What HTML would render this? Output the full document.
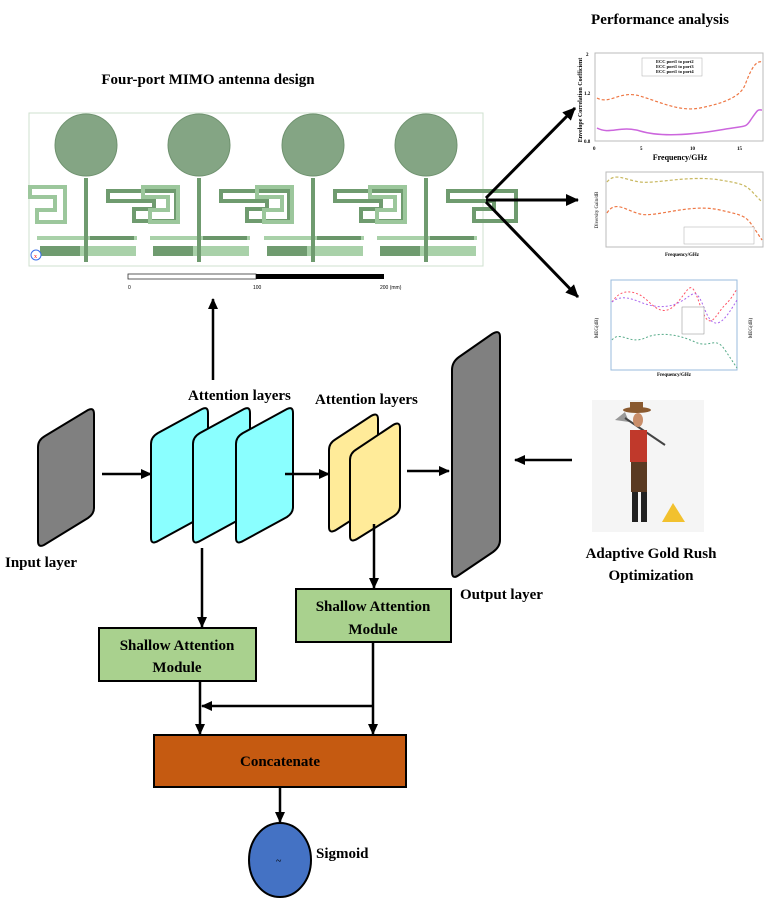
<!DOCTYPE html>
<html><head><meta charset="utf-8"><style>
body{margin:0;background:#fff;}
svg{display:block;font-family:"Liberation Serif",serif;}
.b{font-weight:bold;}
</style></head><body>
<svg width="770" height="901" viewBox="0 0 770 901" xmlns="http://www.w3.org/2000/svg">
<defs>
<marker id="ah" markerWidth="11" markerHeight="10" refX="10" refY="5" orient="auto" markerUnits="userSpaceOnUse"><path d="M0,0 L11,5 L0,10 z" fill="#000"/></marker>
<marker id="ah2" markerWidth="13" markerHeight="12" refX="12" refY="6" orient="auto" markerUnits="userSpaceOnUse"><path d="M0,0 L13,6 L0,12 z" fill="#000"/></marker>
</defs>

<text x="208" y="84" font-size="15" class="b" text-anchor="middle">Four-port MIMO antenna design</text>
<text x="660" y="24" font-size="15" class="b" text-anchor="middle">Performance analysis</text>

<rect x="29" y="113" width="454" height="153" fill="#fff" stroke="#cfe0cf" stroke-width="1"/>
<g id="ant">
 <path d="M30,187 h35 v35 h-28 v-12 h18 v-13 h-25 z" fill="none" stroke="#9cc79c" stroke-width="4"/>
 <path d="M108,191 h68 v30 h-42 v-12 h20 v-8 h-46 z" fill="none" stroke="#6f9b6f" stroke-width="4"/>
 <path d="M37,238 h100" stroke="#a9d1a9" stroke-width="4"/>
 <path d="M90,238 h44" stroke="#6a966a" stroke-width="4"/>
 <rect x="40" y="246" width="40" height="10" fill="#6f9b6f"/>
 <rect x="80" y="246" width="56" height="10" fill="#a9d1a9"/>
 <rect x="84" y="178" width="4" height="84" fill="#6f9b6f"/>
 <circle cx="86" cy="145" r="31" fill="#84a584" stroke="#6f926f"/>
</g>
<use href="#ant" x="113"/>
<use href="#ant" x="227"/>
<use href="#ant" x="340"/>
<rect x="128" y="274" width="128" height="5" fill="#fff" stroke="#333" stroke-width="0.8"/>
<rect x="256" y="274" width="128" height="5" fill="#000"/>
<text x="128" y="289" font-size="5" font-family="Liberation Sans">0</text>
<text x="253" y="289" font-size="5" font-family="Liberation Sans">100</text>
<text x="380" y="289" font-size="5" font-family="Liberation Sans">200 (mm)</text>
<circle cx="36" cy="255" r="5" fill="#fff" stroke="#3a6ee8" stroke-width="1"/>
<text x="34" y="258" font-size="6" fill="red">x</text>

<line x1="486" y1="198" x2="575" y2="108" stroke="#000" stroke-width="3" marker-end="url(#ah2)"/>
<line x1="486" y1="200" x2="578" y2="200" stroke="#000" stroke-width="3" marker-end="url(#ah2)"/>
<line x1="486" y1="202" x2="578" y2="297" stroke="#000" stroke-width="3" marker-end="url(#ah2)"/>

<rect x="595" y="53" width="168" height="88" fill="#fff" stroke="#bbb"/>
<text x="582" y="100" font-size="6" class="b" transform="rotate(-90 582 100)" text-anchor="middle">Envelope Correlation Coefficient</text>
<text x="680" y="160" font-size="8" class="b" text-anchor="middle">Frequency/GHz</text>
<g font-size="5" class="b"><text x="586" y="56">2</text><text x="584" y="95">1.2</text><text x="584" y="143">0.8</text><text x="593" y="150">0</text><text x="640" y="150">5</text><text x="690" y="150">10</text><text x="737" y="150">15</text></g>
<path d="M597,98 C610,105 620,90 640,96 S680,112 700,108 S740,98 745,85 S755,60 762,62" fill="none" stroke="#ee7744" stroke-width="1.2" stroke-dasharray="3,2"/>
<path d="M597,128 C610,135 620,125 640,131 S690,135 720,130 S745,128 752,118 S758,110 762,110" fill="none" stroke="#cc66dd" stroke-width="1.5"/>
<rect x="642" y="58" width="60" height="18" fill="#fff" stroke="#aaa" stroke-width="0.5"/>
<g font-size="4.5" class="b"><text x="656" y="63">ECC port1 to port2</text><text x="656" y="68">ECC port1 to port3</text><text x="656" y="73">ECC port1 to port4</text></g>

<rect x="606" y="172" width="157" height="75" fill="#fff" stroke="#bbb"/>
<text x="598" y="210" font-size="5" transform="rotate(-90 598 210)" text-anchor="middle">Diversity Gain/dB</text>
<text x="682" y="256" font-size="5" class="b" text-anchor="middle">Frequency/GHz</text>
<path d="M607,182 C615,172 625,180 640,182 S690,175 720,180 S745,185 762,202" fill="none" stroke="#c8b860" stroke-width="1.2" stroke-dasharray="3,2"/>
<path d="M607,213 C615,200 625,210 640,214 S690,203 720,210 S745,215 762,240" fill="none" stroke="#ee7744" stroke-width="1.2" stroke-dasharray="3,2"/>
<rect x="684" y="227" width="70" height="17" fill="#fff" stroke="#aaa" stroke-width="0.5"/>

<rect x="611" y="280" width="126" height="90" fill="#fff" stroke="#9bd"/>
<text x="598" y="328" font-size="5" transform="rotate(-90 598 328)" text-anchor="middle">MEG(dB)</text>
<text x="752" y="328" font-size="5" transform="rotate(-90 752 328)" text-anchor="middle">MEG(dB)</text>
<text x="674" y="376" font-size="5" class="b" text-anchor="middle">Frequency/GHz</text>
<path d="M612,302 C620,290 630,290 640,295 S660,320 675,305 S690,275 700,305 S715,315 725,305 S735,290 737,290" fill="none" stroke="#ff5566" stroke-width="1" stroke-dasharray="2,2"/>
<path d="M612,302 C620,295 630,298 640,302 S665,310 680,302 S695,285 705,310 S725,320 737,300" fill="none" stroke="#aa66ee" stroke-width="1" stroke-dasharray="2,2"/>
<path d="M612,340 C620,330 630,345 645,338 S680,335 695,342 S715,335 725,350 S735,365 737,368" fill="none" stroke="#55aa88" stroke-width="1" stroke-dasharray="2,2"/>
<rect x="682" y="307" width="22" height="27" fill="#fff" stroke="#888" stroke-width="0.5"/>

<line x1="213" y1="380" x2="213" y2="299" stroke="#000" stroke-width="2.5" marker-end="url(#ah)"/>

<path d="M38,447 Q38,440 45,436 L88,410 Q94,407 94,414 L94,508 Q94,514 88,518 L44,545 Q38,548 38,541 Z" fill="#808080" stroke="#000" stroke-width="2"/>

<g fill="#8affff" stroke="#000" stroke-width="2">
<path d="M151,444 Q151,437 158,433 L202,409 Q208,406 208,413 L208,507 Q208,513 202,517 L158,541 Q151,545 151,538 Z"/>
<path d="M193,444 Q193,437 200,433 L244,409 Q250,406 250,413 L250,507 Q250,513 244,517 L200,541 Q193,545 193,538 Z"/>
<path d="M236,444 Q236,437 243,433 L287,409 Q293,406 293,413 L293,507 Q293,513 287,517 L243,541 Q236,545 236,538 Z"/>
</g>
<g fill="#ffeb99" stroke="#000" stroke-width="2">
<path d="M329,450 Q329,443 336,439 L371,416 Q378,412 378,419 L378,497 Q378,503 372,507 L336,530 Q329,534 329,527 Z"/>
<path d="M350,460 Q350,453 357,449 L393,425 Q400,421 400,428 L400,506 Q400,512 394,516 L357,539 Q350,543 350,536 Z"/>
</g>
<path d="M452,370 Q452,362 459,357 L492,334 Q500,329 500,337 L500,540 Q500,547 493,552 L459,575 Q452,580 452,572 Z" fill="#808080" stroke="#000" stroke-width="2"/>

<text x="188" y="400" font-size="15" class="b">Attention layers</text>
<text x="315" y="404" font-size="15" class="b">Attention layers</text>
<text x="5" y="567" font-size="15" class="b">Input layer</text>
<text x="460" y="599" font-size="15" class="b">Output layer</text>
<text x="651" y="558" font-size="15" class="b" text-anchor="middle">Adaptive Gold Rush</text>
<text x="651" y="580" font-size="15" class="b" text-anchor="middle">Optimization</text>

<line x1="102" y1="474" x2="151" y2="474" stroke="#000" stroke-width="2.5" marker-end="url(#ah)"/>
<line x1="285" y1="474" x2="329" y2="474" stroke="#000" stroke-width="2.5" marker-end="url(#ah)"/>
<line x1="407" y1="471" x2="449" y2="471" stroke="#000" stroke-width="2.5" marker-end="url(#ah)"/>
<line x1="572" y1="460" x2="515" y2="460" stroke="#000" stroke-width="2.5" marker-end="url(#ah)"/>

<rect x="592" y="400" width="112" height="132" fill="#f5f5f5"/>
<path d="M615,420 l10,-8 l4,10 z" fill="#999"/>
<line x1="625" y1="418" x2="665" y2="445" stroke="#444" stroke-width="2"/>
<ellipse cx="637" cy="410" rx="14" ry="3" fill="#8a5a30"/>
<rect x="630" y="402" width="13" height="8" fill="#8a5a30"/>
<ellipse cx="638" cy="420" rx="5" ry="7" fill="#c98e6a"/>
<rect x="630" y="430" width="17" height="32" fill="#c0392b"/>
<rect x="631" y="462" width="16" height="30" fill="#5a3a22"/>
<rect x="632" y="492" width="6" height="30" fill="#222"/>
<rect x="641" y="492" width="6" height="30" fill="#222"/>
<path d="M662,522 L673,503 L685,522 Z" fill="#f2c12e"/>

<line x1="202" y1="548" x2="202" y2="627" stroke="#000" stroke-width="2.5" marker-end="url(#ah)"/>
<line x1="374" y1="524" x2="374" y2="588" stroke="#000" stroke-width="2.5" marker-end="url(#ah)"/>

<rect x="99" y="628" width="157" height="53" fill="#a9d18e" stroke="#000" stroke-width="2"/>
<text x="177" y="650" font-size="15" class="b" text-anchor="middle">Shallow Attention</text>
<text x="177" y="672" font-size="15" class="b" text-anchor="middle">Module</text>
<rect x="296" y="589" width="155" height="53" fill="#a9d18e" stroke="#000" stroke-width="2"/>
<text x="373" y="611" font-size="15" class="b" text-anchor="middle">Shallow Attention</text>
<text x="373" y="634" font-size="15" class="b" text-anchor="middle">Module</text>

<line x1="200" y1="681" x2="200" y2="734" stroke="#000" stroke-width="2.5" marker-end="url(#ah)"/>
<line x1="373" y1="642" x2="373" y2="734" stroke="#000" stroke-width="2.5" marker-end="url(#ah)"/>
<line x1="373" y1="706" x2="202" y2="706" stroke="#000" stroke-width="2.5" marker-end="url(#ah)"/>

<rect x="154" y="735" width="252" height="52" fill="#c55a11" stroke="#000" stroke-width="2"/>
<text x="280" y="766" font-size="15" class="b" text-anchor="middle">Concatenate</text>
<line x1="280" y1="787" x2="280" y2="822" stroke="#000" stroke-width="2.5" marker-end="url(#ah)"/>
<ellipse cx="280" cy="860" rx="31" ry="37" fill="#4472c4" stroke="#000" stroke-width="2"/>
<text x="276" y="864" font-size="10">~</text>
<text x="316" y="858" font-size="15" class="b">Sigmoid</text>
</svg>
</body></html>
